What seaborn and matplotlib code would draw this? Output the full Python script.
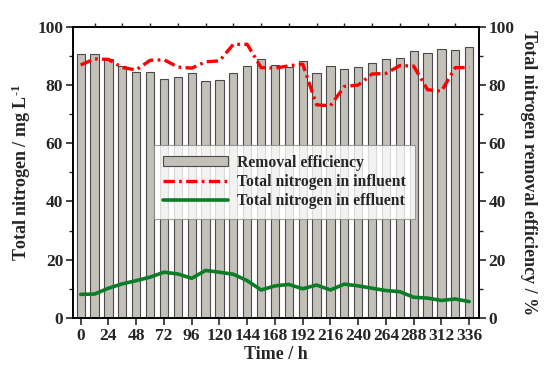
import pandas as pd
import matplotlib
matplotlib.use("Agg")
import matplotlib.pyplot as plt
from matplotlib.ticker import FixedLocator
from matplotlib.patches import Patch
from matplotlib.lines import Line2D
import seaborn as sns

# sampling times (h)
hours = list(range(0, 337, 12))

# removal efficiency (%), right axis
efficiency = [90.6, 90.6, 88.9, 86.4, 84.6, 84.5, 82.1, 82.6, 84.1, 81.3,
              81.9, 84.1, 86.6, 88.8, 86.9, 86.3, 88.3, 84.3, 86.5, 85.6,
              86.3, 87.6, 88.9, 89.3, 91.8, 91.0, 92.3, 92.1, 93.1]

# total nitrogen in influent (mg/L)
influent = [86.9, 89.0, 88.8, 86.0, 85.2, 88.5, 88.7, 86.2, 85.8, 88.0,
            88.3, 94.0, 94.0, 86.0, 85.8, 86.6, 87.2, 73.2, 72.9, 79.5,
            80.0, 83.8, 84.0, 86.7, 86.5, 78.4, 77.9, 86.0, 86.0]

# total nitrogen in effluent (mg/L)
effluent = [8.1, 8.2, 10.2, 11.7, 12.8, 14.0, 15.7, 15.1, 13.6, 16.3,
            15.7, 15.0, 12.8, 9.6, 11.0, 11.5, 10.0, 11.3, 9.6, 11.6,
            11.0, 10.2, 9.4, 9.0, 7.1, 6.8, 6.0, 6.5, 5.6]

df = pd.DataFrame({"Time": hours, "Efficiency": efficiency,
                   "Influent": influent, "Effluent": effluent})

sns.set_style("ticks")
plt.rcParams["font.family"] = ["Liberation Serif", "DejaVu Serif"]
plt.rcParams["font.weight"] = "bold"
plt.rcParams["axes.linewidth"] = 1.2
plt.rcParams["mathtext.fontset"] = "custom"
plt.rcParams["mathtext.rm"] = "Liberation Serif:bold"
plt.rcParams["mathtext.it"] = "Liberation Serif:bold"
plt.rcParams["mathtext.bf"] = "Liberation Serif:bold"

fig = plt.figure(figsize=(5.57, 3.78), dpi=100)
ax = fig.add_axes([0.131, 0.159, 0.729, 0.770])

bar_color = "#c2c0b8"
sns.barplot(data=df, x="Time", y="Efficiency", native_scale=True, width=0.6,
            color=bar_color, edgecolor="#4a4a4a", linewidth=0.8,
            saturation=1, ax=ax, zorder=1)

red_style = (0, (3.4, 1.3, 0.8, 1.3))
sns.lineplot(data=df, x="Time", y="Influent", color="#ff0000", linewidth=2.4,
             linestyle=red_style, ax=ax, zorder=3)
sns.lineplot(data=df, x="Time", y="Effluent", color="#0b7d26", linewidth=2.6,
             ax=ax, zorder=3)

ax.set_xlim(-6.7, 344.5)
ax.set_ylim(0, 100)
ax.set_xticks(range(0, 337, 24))
ax.xaxis.set_minor_locator(FixedLocator(range(12, 337, 24)))
ax.set_yticks(range(0, 101, 20))
ax.yaxis.set_minor_locator(FixedLocator(range(10, 100, 20)))
ax.tick_params(axis="x", which="major", direction="out", length=5, width=1.2,
               labelsize=12.5, bottom=True, top=False, pad=2)
ax.tick_params(axis="x", which="minor", direction="out", length=3, width=1,
               bottom=False, top=True)
ax.tick_params(axis="y", which="major", direction="out", length=5, width=1.2,
               labelsize=12.5, pad=2)
ax.tick_params(axis="y", which="minor", direction="out", length=3, width=1)
for lab in ax.get_xticklabels() + ax.get_yticklabels():
    lab.set_fontweight("bold")

ax.set_xlabel("Time / h", fontsize=13, fontweight="bold", labelpad=2)
ax.set_ylabel("Total nitrogen / mg L$^{\\text{-1}}$", fontsize=13,
              fontweight="bold", labelpad=3)

ax2 = ax.twinx()
ax2.set_ylim(0, 100)
ax2.set_yticks(range(0, 101, 20))
ax2.yaxis.set_minor_locator(FixedLocator(range(10, 100, 20)))
ax2.tick_params(axis="y", which="major", direction="out", length=5, width=1.2,
                labelsize=12.5, pad=2)
ax2.tick_params(axis="y", which="minor", direction="out", length=3, width=1)
for lab in ax2.get_yticklabels():
    lab.set_fontweight("bold")
ax2.set_ylabel("Total nitrogen removal efficiency / %", fontsize=13,
               fontweight="bold", rotation=270, labelpad=16)
for a in (ax, ax2):
    for s in a.spines.values():
        s.set_visible(True)
        s.set_color("black")
        s.set_linewidth(1.2)

handles = [
    Patch(facecolor=bar_color, edgecolor="#4a4a4a", linewidth=0.8),
    Line2D([], [], color="#ff0000", linewidth=2.4, linestyle=red_style),
    Line2D([], [], color="#0b7d26", linewidth=2.6),
]
labels = ["Removal efficiency", "Total nitrogen in influent",
          "Total nitrogen in effluent"]
leg = ax2.legend(handles, labels, loc="center", bbox_to_anchor=(0.521, 0.467),
                 frameon=True, fancybox=False, edgecolor="#888888",
                 prop={"size": 11.3, "weight": "bold"}, handlelength=4.1,
                 handleheight=0.6, borderpad=0.6, labelspacing=0.2,
                 handletextpad=0.6, borderaxespad=0)
leg.get_frame().set_linewidth(0.8)

plt.savefig("out.png", dpi=100)
